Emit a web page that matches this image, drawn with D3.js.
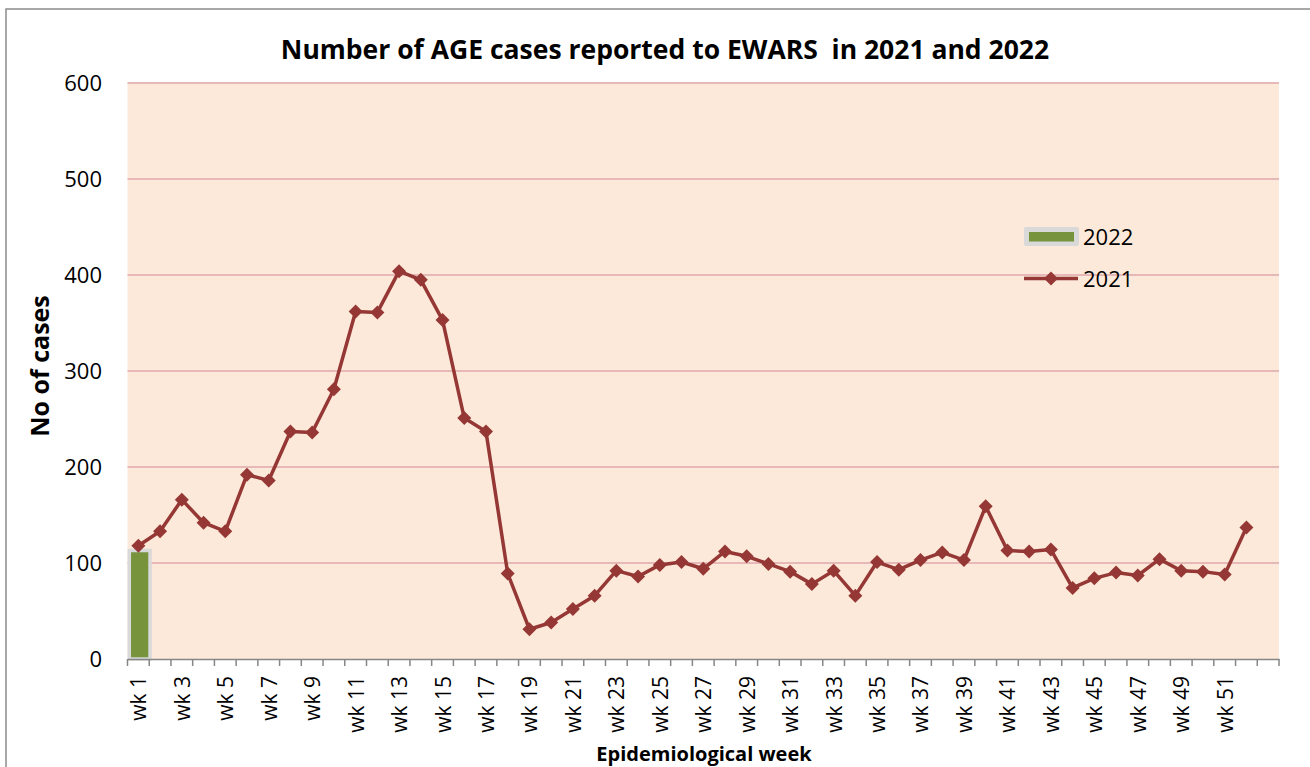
<!DOCTYPE html>
<html>
<head>
<meta charset="utf-8">
<script src="https://cdn.jsdelivr.net/npm/d3@7"></script>
<style>
  html, body { margin: 0; padding: 0; background: #fff; }
  svg { display: block; font-family: "Open Sans", "Liberation Sans", sans-serif; }
</style>
</head>
<body>
<svg id="chart" width="1310" height="767"></svg>
<script>
// ---- data ----
const weeks = ["wk 1","wk 2","wk 3","wk 4","wk 5","wk 6","wk 7","wk 8","wk 9","wk 10",
  "wk 11","wk 12","wk 13","wk 14","wk 15","wk 16","wk 17","wk 18","wk 19","wk 20",
  "wk 21","wk 22","wk 23","wk 24","wk 25","wk 26","wk 27","wk 28","wk 29","wk 30",
  "wk 31","wk 32","wk 33","wk 34","wk 35","wk 36","wk 37","wk 38","wk 39","wk 40",
  "wk 41","wk 42","wk 43","wk 44","wk 45","wk 46","wk 47","wk 48","wk 49","wk 50",
  "wk 51","wk 52",""];
const cases2021 = [118,133,166,142,133,192,186,237,236,281,
  362,361,404,395,353,251,237,89,31,38,
  52,66,92,86,98,101,94,112,107,99,
  91,78,92,66,101,93,103,111,103,159,
  113,112,114,74,84,90,87,104,92,91,
  88,137];
const cases2022 = [113];
const yTicks = [0,100,200,300,400,500,600];
const titleText = "Number of AGE cases reported to EWARS  in 2021 and 2022";
const yTitle = "No of cases";
const xTitle = "Epidemiological week";
const seriesNames = ["2022","2021"];

// ---- layout ----
const svg = d3.select("#chart");
const plot = {left: 127.5, right: 1279, top: 83, bottom: 659};

// outer chart frame
svg.append("rect").attr("x", 6).attr("y", 9).attr("width", 1400).attr("height", 900)
  .attr("fill", "#fff").attr("stroke", "#8c8c8c").attr("stroke-width", 1.5);

const x = d3.scaleBand().domain(weeks).range([plot.left, plot.right]).padding(0);
const y = d3.scaleLinear().domain([0, 600]).range([plot.bottom, plot.top]);

// plot background
svg.append("rect").attr("x", plot.left).attr("y", plot.top)
  .attr("width", plot.right - plot.left).attr("height", plot.bottom - plot.top)
  .attr("fill", "#fde9d9");

// gridlines
svg.append("g").selectAll("line").data(yTicks.filter(d => d > 0)).join("line")
  .attr("x1", plot.left).attr("x2", plot.right)
  .attr("y1", d => y(d)).attr("y2", d => y(d))
  .attr("stroke", "#e6b9b8").attr("stroke-width", 2);

// y tick labels
svg.append("g").selectAll("text").data(yTicks).join("text")
  .attr("x", 102).attr("y", d => y(d)).attr("dy", "0.35em")
  .attr("text-anchor", "end").attr("font-size", 22).attr("fill", "#000")
  .text(d => d);

// bar 2022
svg.append("g").selectAll("rect").data(cases2022).join("rect")
  .attr("x", (d, i) => x(weeks[i]) + 1.8)
  .attr("width", x.bandwidth() - 1)
  .attr("y", d => y(d))
  .attr("height", d => y(0) - y(d))
  .attr("fill", "#77933c").attr("stroke", "#d9d9d9").attr("stroke-width", 3.5);

// x axis
const xAxis = d3.axisBottom(x).tickSize(0).tickFormat((d, i) => (i % 2 === 0 ? d : ""));
const gx = svg.append("g").attr("transform", `translate(0,${plot.bottom})`).call(xAxis);
gx.select(".domain").attr("stroke", "#868686").attr("stroke-width", 1.5);
gx.selectAll(".tick text")
  .attr("transform", "rotate(-90)")
  .attr("text-anchor", "end")
  .attr("x", -17).attr("y", 0).attr("dy", "0.38em")
  .attr("font-size", 21).attr("font-family", "Open Sans").attr("fill", "#000");
// tick marks at band boundaries
const bounds = weeks.map(w => x(w)).concat([plot.right]);
svg.append("g").selectAll("line").data(bounds).join("line")
  .attr("x1", d => d).attr("x2", d => d)
  .attr("y1", plot.bottom).attr("y2", plot.bottom + 7)
  .attr("stroke", "#868686").attr("stroke-width", 1.5);

// line 2021
const cx = (d, i) => x(weeks[i]) + x.bandwidth() / 2;
svg.append("path").datum(cases2021)
  .attr("fill", "none").attr("stroke", "#953735").attr("stroke-width", 3.5)
  .attr("stroke-linejoin", "round")
  .attr("d", d3.line().x(cx).y(d => y(d)));
const diamond = "M0,-7L7,0L0,7L-7,0Z";
svg.append("g").selectAll("path").data(cases2021).join("path")
  .attr("d", diamond)
  .attr("transform", (d, i) => `translate(${cx(d, i)},${y(d)})`)
  .attr("fill", "#953735");

// legend
const lg = svg.append("g");
lg.append("rect").attr("x", 1024).attr("y", 227).attr("width", 55).attr("height", 19)
  .attr("rx", 2).attr("fill", "#d9d9d9");
lg.append("rect").attr("x", 1029).attr("y", 232).attr("width", 45).attr("height", 9.5)
  .attr("fill", "#77933c");
lg.append("line").attr("x1", 1024).attr("x2", 1078).attr("y1", 278.5).attr("y2", 278.5)
  .attr("stroke", "#953735").attr("stroke-width", 3.5);
lg.append("path").attr("d", diamond).attr("transform", "translate(1051,278.5)").attr("fill", "#953735");
lg.selectAll("text").data(seriesNames).join("text")
  .attr("x", 1083).attr("y", (d, i) => i === 0 ? 237 : 279).attr("dy", "0.35em")
  .attr("font-size", 22).attr("fill", "#000").text(d => d);

// titles
svg.append("text").attr("x", 665).attr("y", 50).attr("dy", "0.35em")
  .attr("text-anchor", "middle").attr("font-size", 26.5).attr("font-weight", "bold")
  .style("white-space", "pre")
  .text(titleText);
svg.append("text").attr("transform", "translate(40,366) rotate(-90)").attr("dy", "0.35em")
  .attr("text-anchor", "middle").attr("font-size", 25).attr("font-weight", "bold")
  .text(yTitle);
svg.append("text").attr("x", 704).attr("y", 754).attr("dy", "0.35em")
  .attr("text-anchor", "middle").attr("font-size", 20).attr("font-weight", "bold")
  .text(xTitle);
</script>
</body>
</html>
